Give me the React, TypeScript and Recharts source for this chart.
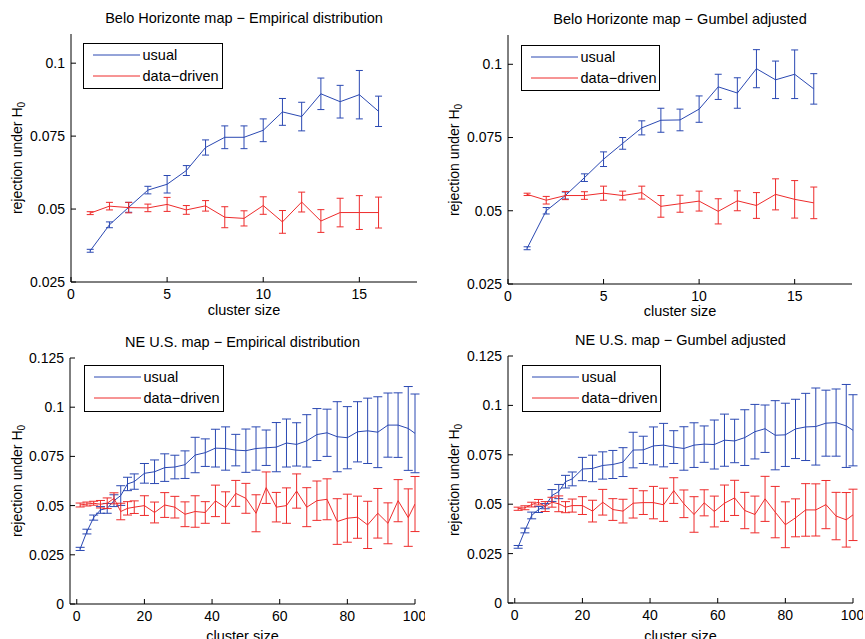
import React from 'react';
import { LineChart, Line, XAxis, YAxis, ErrorBar } from 'recharts';

// cluster sizes
const sizesBH = [1, 2, 3, 4, 5, 6, 7, 8, 9, 10, 11, 12, 13, 14, 15, 16];
const sizesNE = [1, 3, 5, 7, 9, 11, 13, 15, 17, 20, 23, 26, 29, 32, 35, 38, 41, 44, 47, 50, 53, 56, 59, 62, 65, 68, 71, 74, 77, 80, 83, 86, 89, 92, 95, 98, 100];

// Belo Horizonte - empirical
const bhEmpUsual = [0.0357, 0.0446, 0.0506, 0.0565, 0.0585, 0.0632, 0.0711, 0.0746, 0.0746, 0.077, 0.0833, 0.0817, 0.0895, 0.0868, 0.0892, 0.0835];
const bhEmpUsualErr = [0.0005, 0.001, 0.0017, 0.0013, 0.003, 0.0017, 0.0026, 0.0039, 0.0039, 0.0039, 0.0046, 0.0049, 0.0054, 0.0056, 0.0083, 0.0052];
const bhEmpDD = [0.0486, 0.051, 0.0505, 0.0504, 0.0516, 0.0497, 0.0511, 0.0472, 0.0468, 0.0512, 0.0456, 0.0524, 0.0459, 0.0488, 0.0488, 0.0488];
const bhEmpDDErr = [0.0005, 0.0013, 0.0018, 0.0013, 0.0024, 0.0015, 0.0018, 0.0036, 0.0026, 0.003, 0.0039, 0.0034, 0.0039, 0.0049, 0.0058, 0.0053];

// Belo Horizonte - Gumbel
const bhGumUsual = [0.0372, 0.05, 0.0552, 0.0613, 0.0676, 0.073, 0.0783, 0.0809, 0.081, 0.0847, 0.0923, 0.0902, 0.0985, 0.0947, 0.0966, 0.0916];
const bhGumUsualErr = [0.0005, 0.0011, 0.0012, 0.0013, 0.0025, 0.002, 0.0024, 0.0041, 0.0037, 0.0045, 0.0043, 0.0052, 0.0065, 0.0064, 0.0083, 0.0052];
const bhGumDD = [0.0556, 0.0536, 0.0552, 0.0552, 0.056, 0.0552, 0.0562, 0.0515, 0.0524, 0.0533, 0.0498, 0.0534, 0.0518, 0.0556, 0.0539, 0.0527];
const bhGumDDErr = [0.0004, 0.0013, 0.0014, 0.0013, 0.0024, 0.0015, 0.0022, 0.0037, 0.0029, 0.0034, 0.0043, 0.0034, 0.0044, 0.0053, 0.0064, 0.0054];

// NE U.S. - empirical
const neEmpUsual = [0.028, 0.0368, 0.0439, 0.0478, 0.0486, 0.0525, 0.0551, 0.061, 0.0622, 0.0664, 0.0672, 0.0693, 0.0696, 0.0708, 0.0757, 0.0769, 0.0792, 0.079, 0.0782, 0.0779, 0.079, 0.0794, 0.0797, 0.0818, 0.0811, 0.0829, 0.0861, 0.087, 0.085, 0.0845, 0.0875, 0.088, 0.0873, 0.0909, 0.0909, 0.0892, 0.0867];
const neEmpUsualErr = [0.0008, 0.0012, 0.0013, 0.0017, 0.0025, 0.003, 0.005, 0.0034, 0.0039, 0.005, 0.006, 0.007, 0.006, 0.007, 0.009, 0.007, 0.0096, 0.011, 0.008, 0.011, 0.011, 0.009, 0.0125, 0.0122, 0.011, 0.0133, 0.0132, 0.012, 0.0178, 0.0158, 0.0153, 0.0166, 0.018, 0.0163, 0.0164, 0.0213, 0.02];
const neEmpDD = [0.0503, 0.0508, 0.0512, 0.0507, 0.0512, 0.0537, 0.047, 0.0486, 0.0492, 0.05, 0.0465, 0.0503, 0.0492, 0.0456, 0.047, 0.0465, 0.0524, 0.049, 0.0562, 0.0537, 0.0461, 0.0591, 0.0492, 0.05, 0.0574, 0.0492, 0.0525, 0.0532, 0.0419, 0.0436, 0.0441, 0.0402, 0.0461, 0.041, 0.0525, 0.0439, 0.0508];
const neEmpDDErr = [0.001, 0.001, 0.001, 0.0019, 0.0027, 0.0028, 0.0042, 0.0034, 0.0032, 0.005, 0.0053, 0.0063, 0.0055, 0.0063, 0.008, 0.0055, 0.008, 0.008, 0.0066, 0.0076, 0.0094, 0.008, 0.0075, 0.009, 0.0087, 0.0099, 0.01, 0.0104, 0.0116, 0.0122, 0.0107, 0.012, 0.0126, 0.0104, 0.0107, 0.0146, 0.014];

// NE U.S. - Gumbel
const neGumUsual = [0.0284, 0.0367, 0.0443, 0.0473, 0.049, 0.0544, 0.0564, 0.0614, 0.0628, 0.0678, 0.0681, 0.0696, 0.0701, 0.0713, 0.0774, 0.0775, 0.0795, 0.0799, 0.0789, 0.0782, 0.0799, 0.0804, 0.0802, 0.0824, 0.082, 0.0837, 0.0867, 0.0882, 0.0849, 0.0851, 0.0881, 0.0891, 0.0893, 0.091, 0.0913, 0.0896, 0.0874];
const neGumUsualErr = [0.0007, 0.0012, 0.0017, 0.0015, 0.0013, 0.003, 0.0036, 0.0032, 0.0035, 0.0059, 0.0067, 0.0069, 0.0071, 0.0073, 0.009, 0.0069, 0.0096, 0.011, 0.0083, 0.011, 0.0113, 0.0092, 0.0124, 0.0132, 0.011, 0.0141, 0.0138, 0.012, 0.0175, 0.016, 0.015, 0.017, 0.0195, 0.0167, 0.017, 0.021, 0.018];
const neGumDD = [0.0477, 0.0482, 0.0498, 0.051, 0.0488, 0.051, 0.0502, 0.0485, 0.0493, 0.0493, 0.0465, 0.051, 0.0473, 0.0465, 0.0505, 0.0508, 0.0508, 0.0497, 0.0569, 0.0502, 0.0448, 0.0507, 0.0463, 0.0505, 0.0532, 0.0468, 0.0448, 0.0527, 0.046, 0.0396, 0.0431, 0.0471, 0.0471, 0.0498, 0.044, 0.0421, 0.0446];
const neGumDDErr = [0.0008, 0.001, 0.0012, 0.0014, 0.0025, 0.0025, 0.004, 0.0028, 0.0033, 0.0045, 0.0055, 0.0065, 0.0055, 0.006, 0.0075, 0.006, 0.0082, 0.0084, 0.0065, 0.007, 0.009, 0.0066, 0.0078, 0.0092, 0.0089, 0.0092, 0.0093, 0.0114, 0.013, 0.0116, 0.0096, 0.0133, 0.0132, 0.0122, 0.012, 0.0138, 0.013];

const ticksBHx = [0, 5, 10, 15];
const ticksBHy = [0.025, 0.05, 0.075, 0.1];
const ticksNEx = [0, 20, 40, 60, 80, 100];
const ticksNEy = [0, 0.025, 0.05, 0.075, 0.1, 0.125];

const BLUE = '#2a48b2';
const RED = '#ee2b2b';
const FONT = '"Liberation Sans", Arial, Helvetica, sans-serif';

function build(xs: number[], u: number[], ue: number[], d: number[], de: number[]) {
  return xs.map((x, i) => ({ x, usual: u[i], usualErr: ue[i], dd: d[i], ddErr: de[i] }));
}

const fmt = (v: number) => String(v);

interface PanelProps {
  title: string;
  data: any[];
  box: [number, number, number, number]; // left, top, right, bottom of axes box
  xDomain: [number, number];
  yDomain: [number, number];
  xTicks: number[];
  yTicks: number[];
  capW: number;
  legend: [number, number, number, number];
  ylabelX: number;
  xlabelY: number;
}

function Panel({ title, data, box, xDomain, yDomain, xTicks, yTicks, capW, legend, ylabelX, xlabelY }: PanelProps) {
  const [l, t, r, b] = box;
  const w = r - l + 60;
  const h = b - t + 40;
  const tickStyle = { fill: '#000', fontSize: 14, fontFamily: FONT };
  const axisLine = { stroke: '#000', strokeWidth: 1 };
  const cx = (l + r) / 2;
  const lw = legend[2] - legend[0];
  const lh = legend[3] - legend[1];
  return (
    <>
      <div style={{ position: 'absolute', left: cx, top: t - 16, transform: 'translate(-50%, -50%)', fontSize: 14.5, fontFamily: FONT, whiteSpace: 'nowrap' }}>
        {title}
      </div>
      <div style={{ position: 'absolute', left: cx, top: xlabelY, transform: 'translate(-50%, -50%)', fontSize: 14.5, fontFamily: FONT, whiteSpace: 'nowrap', lineHeight: '15px' }}>
        cluster size
      </div>
      <div style={{ position: 'absolute', left: ylabelX, top: (t + b) / 2, transform: 'translate(-50%, -50%) rotate(-90deg)', fontSize: 14, fontFamily: FONT, whiteSpace: 'nowrap' }}>
        rejection under H<sub style={{ fontSize: 10 }}>0</sub>
      </div>
      <div style={{ position: 'absolute', left: l - 50, top: t - 10 }}>
        <LineChart width={w} height={h} data={data} margin={{ top: 10, right: 10, bottom: 5, left: 0 }}>
          <XAxis dataKey="x" type="number" domain={xDomain} ticks={xTicks} allowDataOverflow
            tick={tickStyle} tickSize={-5} tickMargin={12} axisLine={axisLine} tickLine={{ stroke: '#000' }} height={25} tickFormatter={fmt} />
          <XAxis xAxisId="top" orientation="top" type="number" domain={xDomain} ticks={xTicks} allowDataOverflow
            tick={false} tickSize={-5} axisLine={axisLine} tickLine={{ stroke: '#000' }} height={0} />
          <YAxis type="number" domain={yDomain} ticks={yTicks} allowDataOverflow
            tick={tickStyle} tickSize={-5} tickMargin={11} axisLine={axisLine} tickLine={{ stroke: '#000' }} width={50} tickFormatter={fmt} />
          <YAxis yAxisId="right" orientation="right" type="number" domain={yDomain} ticks={yTicks} allowDataOverflow
            tick={false} tickSize={-5} axisLine={axisLine} tickLine={{ stroke: '#000' }} width={0} />
          <Line dataKey="usual" stroke={BLUE} strokeWidth={1} dot={false} isAnimationActive={false}>
            <ErrorBar dataKey="usualErr" width={capW} stroke={BLUE} strokeWidth={1} isAnimationActive={false} />
          </Line>
          <Line dataKey="dd" stroke={RED} strokeWidth={1} dot={false} isAnimationActive={false}>
            <ErrorBar dataKey="ddErr" width={capW} stroke={RED} strokeWidth={1} isAnimationActive={false} />
          </Line>
        </LineChart>
      </div>
      <div style={{ position: 'absolute', left: legend[0], top: legend[1], width: lw, height: lh, border: '1.5px solid #000', background: '#fff', boxSizing: 'border-box', fontFamily: FONT, fontSize: 14.5 }}>
        <svg width={lw} height={lh} style={{ position: 'absolute', left: -1.5, top: -1.5 }}>
          <line x1={10} x2={57} y1={12} y2={12} stroke={BLUE} strokeWidth={1} />
          <line x1={10} x2={57} y1={33} y2={33} stroke={RED} strokeWidth={1} />
        </svg>
        <div style={{ position: 'absolute', left: 58.5, top: 2.5, lineHeight: '17px' }}>usual</div>
        <div style={{ position: 'absolute', left: 58.5, top: 23.5, lineHeight: '17px' }}>data−driven</div>
      </div>
    </>
  );
}

export default function App() {
  return (
    <div style={{ position: 'absolute', left: 0, top: 0, width: 865, height: 639, background: '#fff', overflow: 'hidden' }}>
      <Panel title="Belo Horizonte map − Empirical distribution" data={build(sizesBH, bhEmpUsual, bhEmpUsualErr, bhEmpDD, bhEmpDDErr)}
        box={[71, 34, 417, 282]} xDomain={[0, 18]} yDomain={[0.025, 0.11]} xTicks={ticksBHx} yTicks={ticksBHy} capW={3.5}
        legend={[83, 43, 223, 89]} ylabelX={18} xlabelY={310} />
      <Panel title="Belo Horizonte map − Gumbel adjusted" data={build(sizesBH, bhGumUsual, bhGumUsualErr, bhGumDD, bhGumDDErr)}
        box={[508, 35, 852, 284]} xDomain={[0, 18]} yDomain={[0.025, 0.11]} xTicks={ticksBHx} yTicks={ticksBHy} capW={3.5}
        legend={[521, 45, 660, 91]} ylabelX={455} xlabelY={311} />
      <Panel title="NE U.S. map − Empirical distribution" data={build(sizesNE, neEmpUsual, neEmpUsualErr, neEmpDD, neEmpDDErr)}
        box={[70, 358, 415, 604]} xDomain={[-2, 100]} yDomain={[0, 0.125]} xTicks={ticksNEx} yTicks={ticksNEy} capW={4.5}
        legend={[84, 365, 224, 412]} ylabelX={18} xlabelY={636} />
      <Panel title="NE U.S. map − Gumbel adjusted" data={build(sizesNE, neGumUsual, neGumUsualErr, neGumDD, neGumDDErr)}
        box={[508, 356, 853, 603]} xDomain={[-2, 100]} yDomain={[0, 0.125]} xTicks={ticksNEx} yTicks={ticksNEy} capW={4.5}
        legend={[522, 365, 661, 412]} ylabelX={455} xlabelY={636} />
    </div>
  );
}
